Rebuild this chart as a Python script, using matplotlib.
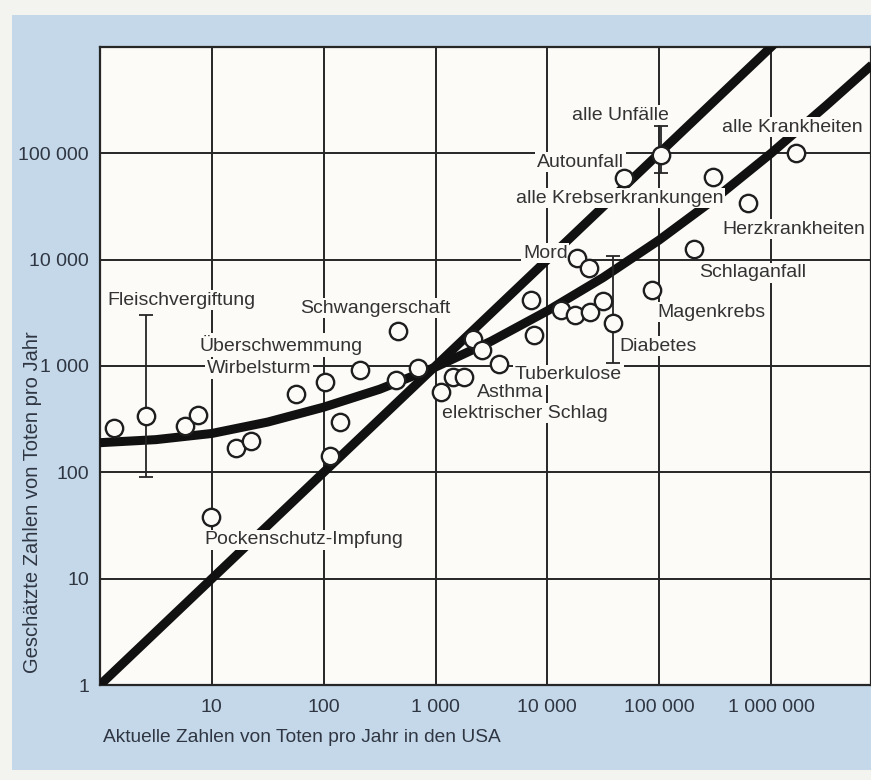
import matplotlib
matplotlib.use('Agg')
import matplotlib.pyplot as plt
from matplotlib.patches import Rectangle
from matplotlib.ticker import FixedLocator, FixedFormatter, NullLocator

plt.rcParams['font.family'] = ['Liberation Sans', 'DejaVu Sans']

# ---- data ----
actual = [1.33, 2.6, 5.7, 7.5, 16.4, 22.3, 9.8, 57, 102, 212, 461, 443, 692,
          141, 115, 1110, 1420, 1815, 2180, 2630, 3720, 7200, 7650, 13300,
          17600, 24300, 31600, 18300, 23800, 38700, 87000, 206000, 625000,
          303000, 48300, 104000, 1670000]
estimated = [259, 338, 271, 345, 170, 199, 38, 550, 700, 910, 2140, 733, 956,
             296, 143, 574, 783, 783, 1790, 1400, 1045, 4200, 1955, 3340,
             2990, 3200, 4090, 10400, 8360, 2560, 5230, 12700, 34100,
             59700, 58300, 96000, 100000]

err_x = [2.6, 38700, 104000]
err_mid = [338, 2560, 96000]
err_low = [90, 1070, 65000]
err_high = [3000, 10900, 179000]

curve_x = [1, 3.16, 10, 31.6, 100, 316, 1000, 3160, 1e4, 3.16e4, 1e5,
           3.16e5, 1e6, 3.16e6, 8e6]
curve_y = [190, 203, 232, 297, 410, 604, 977, 1715, 3300, 6800, 15300,
           37500, 100000, 285000, 680000]

diag_x = [1, 1e7]
diag_y = [1, 1e7]

x_ticks = [1, 10, 100, 1000, 1e4, 1e5, 1e6]
x_ticklabels = ['', '10', '100', '1 000', '10 000', '100 000', '1 000 000']
y_ticks = [1, 10, 100, 1000, 1e4, 1e5, 1e6]
y_ticklabels = ['1', '10', '100', '1 000', '10 000', '100 000', '']

label_texts = ['Fleischvergiftung', 'Überschwemmung', 'Wirbelsturm',
               'Schwangerschaft', 'Pockenschutz-Impfung', 'Asthma',
               'elektrischer Schlag', 'Tuberkulose', 'Mord', 'Autounfall',
               'alle Unfälle', 'alle Krebserkrankungen', 'alle Krankheiten',
               'Herzkrankheiten', 'Schlaganfall', 'Magenkrebs', 'Diabetes']
label_pos = [(0.0091, 0.6034), (0.1297, 0.5329), (0.1388, 0.4953),
             (0.2594, 0.5909), (0.1349, 0.2273), (0.4890, 0.4577),
             (0.4436, 0.4263), (0.5383, 0.4859), (0.5486, 0.6771),
             (0.5668, 0.8197), (0.6122, 0.8934), (0.5396, 0.7633),
             (0.8067, 0.8746), (0.8067, 0.7147), (0.7769, 0.6458),
             (0.7224, 0.5846), (0.6732, 0.5313)]

# ---- styling ----
W, H = 871, 780
face = '#fcfbf8'
blue = '#c4d8ea'
dark = '#262626'
textc = '#333333'
tickc = '#2f3642'

fig = plt.figure(figsize=(W / 100, H / 100), dpi=100, facecolor='#f3f3f0')
bg = fig.add_axes([0, 0, 1, 1], zorder=-5)
bg.set_axis_off()
bg.set_xlim(0, W)
bg.set_ylim(H, 0)
bg.add_patch(Rectangle((12, 15), W - 12, 755, facecolor=blue, edgecolor='none'))

ax = fig.add_axes([100 / W, 95 / H, 771 / W, 638 / H], zorder=1)
ax.set_facecolor(face)
ax.set_xscale('log')
ax.set_yscale('log')
ax.set_xlim(1, 10 ** 6.894)
ax.set_ylim(1, 1e6)

ax.xaxis.set_major_locator(FixedLocator(x_ticks))
ax.xaxis.set_major_formatter(FixedFormatter(x_ticklabels))
ax.yaxis.set_major_locator(FixedLocator(y_ticks))
ax.yaxis.set_major_formatter(FixedFormatter(y_ticklabels))
ax.xaxis.set_minor_locator(NullLocator())
ax.yaxis.set_minor_locator(NullLocator())
ax.tick_params(axis='both', length=0, labelsize=14, labelcolor=tickc)
ax.tick_params(axis='x', pad=10)
ax.tick_params(axis='y', pad=8)
ax.grid(True, which='major', color=dark, lw=1.4, zorder=1)
ax.set_axisbelow(True)
for s in ax.spines.values():
    s.set_color(dark)
    s.set_linewidth(1.6)

# thick lines
ax.plot(diag_x, diag_y, color='#111111', lw=6.5, solid_capstyle='butt', zorder=3)
ax.plot(curve_x, curve_y, color='#111111', lw=6.5, solid_capstyle='butt',
        solid_joinstyle='round', zorder=3)

# error bars
ax.errorbar(err_x, err_mid,
            yerr=[[m - lo for m, lo in zip(err_mid, err_low)],
                  [hi - m for m, hi in zip(err_mid, err_high)]],
            fmt='none', ecolor=dark, elinewidth=1.3, capsize=5, capthick=1.3,
            zorder=4.5)

# data points
ax.plot(actual, estimated, 'o', ls='none', ms=12.5, mfc=face, mec='#1e1e1e',
        mew=1.7, zorder=5)

# labels
for s, (fx, fy) in zip(label_texts, label_pos):
    ax.text(fx, fy, s, transform=ax.transAxes, ha='left', va='center',
            fontsize=14, color=textc, zorder=4,
            bbox=dict(boxstyle='square,pad=0.08', fc=face, ec='none'))

# axis titles
fig.text(103 / W, 1 - 737 / H, 'Aktuelle Zahlen von Toten pro Jahr in den USA',
         ha='left', va='center', fontsize=13.8, color=tickc, zorder=2)
fig.text(33 / W, 1 - 502 / H, 'Geschätzte Zahlen von Toten pro Jahr',
         ha='center', va='center', rotation=90, fontsize=14.5, color=tickc,
         zorder=2)

fig.savefig('out.png', dpi=100, facecolor=fig.get_facecolor())
